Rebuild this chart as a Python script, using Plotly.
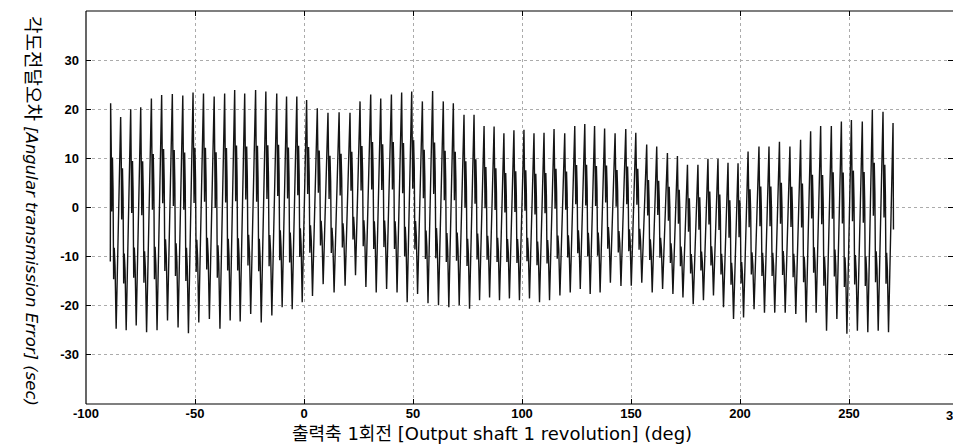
import plotly.graph_objects as go

# ---- data ----
# angle (deg) of each tooth peak
peak_deg = [-88.7, -84.1, -79.5, -74.9, -70.0, -65.3, -60.4, -55.6, -50.9, -46.1,
            -41.2, -36.4, -31.8, -27.2, -22.2, -17.5, -12.5, -8.0, -3.3, 1.2,
            6.1, 11.0, 16.1, 21.1, 25.7, 30.6, 35.2, 40.1, 44.8, 49.4,
            54.3, 59.0, 63.9, 68.5, 73.4, 78.0, 82.6, 87.2, 91.7, 96.3,
            100.9, 105.5, 110.1, 114.7, 119.6, 124.2, 128.8, 133.3, 137.9, 142.7,
            147.6, 152.2, 157.2, 161.8, 166.7, 171.3, 175.9, 180.7, 185.3, 189.9,
            194.5, 199.1, 203.7, 208.7, 213.3, 218.1, 222.9, 227.8, 232.4, 237.0,
            241.9, 246.5, 251.1, 256.1, 260.7, 265.6, 270.2]
# peak values (sec)
peak_val = [21.2, 18.4, 20.0, 20.4, 22.2, 22.9, 23.1, 22.8, 23.4, 23.2,
            22.6, 23.2, 23.9, 23.2, 23.9, 23.6, 23.2, 22.6, 22.6, 21.9,
            20.2, 19.3, 19.4, 19.3, 21.6, 23.0, 22.2, 23.0, 23.4, 23.6,
            21.6, 23.7, 21.6, 21.2, 18.9, 18.9, 16.6, 16.5, 15.1, 15.7,
            15.8, 15.1, 15.2, 16.0, 15.1, 16.6, 17.0, 16.6, 16.1, 15.1,
            16.0, 15.2, 12.8, 12.4, 11.1, 10.5, 8.7, 8.7, 9.9, 9.9,
            9.1, 9.0, 11.4, 12.4, 12.4, 13.4, 12.4, 13.8, 15.5, 16.6,
            16.6, 17.5, 17.8, 17.5, 19.9, 19.5, 17.2]
# trough values between consecutive peaks (sec)
trough_val = [-24.7, -25.0, -24.0, -25.4, -25.0, -23.0, -24.4, -25.6, -23.4, -22.7,
              -24.7, -23.0, -23.2, -21.7, -23.4, -22.0, -20.3, -20.7, -19.3, -18.0,
              -15.6, -17.3, -15.9, -13.8, -16.2, -17.3, -16.6, -17.3, -19.3, -17.6,
              -19.5, -19.9, -20.3, -19.9, -20.6, -18.9, -18.3, -18.9, -18.5, -18.9,
              -18.5, -19.3, -18.9, -17.9, -17.3, -16.6, -17.6, -17.3, -15.3, -16.0,
              -15.9, -15.3, -17.3, -16.6, -17.6, -18.3, -19.7, -18.9, -17.9, -20.3,
              -22.7, -22.4, -20.7, -21.4, -21.4, -21.4, -21.7, -23.4, -21.4, -25.1,
              -22.7, -25.7, -25.1, -25.4, -25.1, -25.4]
start_val = -11.0
end_val = -4.5
# shape of one tooth: phase within the pitch and fraction between trough and peak
profile_phase = [0.0, 0.06, 0.10, 0.18, 0.24, 0.30, 0.36, 0.44, 0.55]
profile_frac = [1.0, 0.80, 0.52, 0.76, 0.62, 0.22, 0.36, 0.28, 0.0]

x_ticks = [-100, -50, 0, 50, 100, 150, 200, 250]
x_tick_text = ["-100", "-50", "0", "50", "100", "150", "200", "250"]
x_last_tick = "300"
y_ticks = [-30, -20, -10, 0, 10, 20, 30]
y_tick_text = ["-30", "-20", "-10", "0", "10", "20", "30"]

x_title = "출력축 1회전 [Output shaft 1 revolution] (deg)"
y_title_ko = "각도전달오차"
y_title_en = "[Angular transmission Error] (sec)"

# ---- build the trace ----
xs = [peak_deg[0] - 0.15]
ys = [start_val]
for k in range(len(trough_val)):
    t0, t1 = peak_deg[k], peak_deg[k + 1]
    H, L = peak_val[k], trough_val[k]
    P = t1 - t0
    for ph, f in zip(profile_phase, profile_frac):
        xs.append(t0 + ph * P)
        ys.append(L + f * (H - L))
xs.append(peak_deg[-1])
ys.append(peak_val[-1])
xs.append(peak_deg[-1] + 0.2)
ys.append(end_val)

W, H_FIG = 953, 445
ML, MT, MB = 86, 11, 41
PX_PER_DEG = 2.18
x_lo = -100
x_hi = x_lo + (W - ML) / PX_PER_DEG   # plot area reaches the window edge

fig = go.Figure()
fig.add_trace(go.Scatter(x=xs, y=ys, mode="lines",
                         line=dict(color="#141414", width=1.4),
                         showlegend=False, hoverinfo="skip"))

tickfont = dict(family="Liberation Sans, Arial, sans-serif", size=13,
                color="black")
axis_common = dict(showline=False, mirror="ticks", ticks="inside", ticklen=5,
                   tickwidth=1.2, tickcolor="black", showgrid=True,
                   gridcolor="#ababab", griddash="dot", gridwidth=1,
                   zeroline=False, tickfont=tickfont)

fig.update_xaxes(range=[x_lo, x_hi], tickvals=x_ticks,
                 ticktext=["<b>%s</b>" % t for t in x_tick_text], **axis_common)
fig.update_yaxes(range=[-40, 40], tickvals=y_ticks,
                 ticktext=["<b>%s</b>" % t for t in y_tick_text],
                 ticklabelstandoff=6, **axis_common)

# frame: left, top and bottom (right side lies beyond the window)
for x0, y0, x1, y1 in [(0, 0, 0, 1), (0, 1, 1, 1), (0, 0, 1, 0)]:
    fig.add_shape(type="line", xref="paper", yref="paper",
                  x0=x0, y0=y0, x1=x1, y1=y1,
                  line=dict(color="black", width=1.2), layer="above")

# partly visible last tick label at the right edge (cut off in the reference too)
fig.add_annotation(text="<b>%s</b>" % x_last_tick, xref="paper", yref="paper",
                   x=(957 - ML) / (W - ML), y=0, yshift=-11, xanchor="center",
                   yanchor="middle", showarrow=False, font=tickfont)

title_font = dict(family="DejaVu Sans, Noto Sans CJK KR, sans-serif",
                  size=18, color="black")
fig.add_annotation(text=x_title,
                   xref="paper", yref="paper", x=(492 - ML) / (W - ML),
                   y=-0.076, xanchor="center", yanchor="middle",
                   showarrow=False, font=title_font)
fig.add_annotation(
    text='<span style="font-size:19px">%s</span> <i>%s</i>' % (y_title_ko, y_title_en),
    xref="paper", yref="paper", x=(33 - ML) / (W - ML),
    y=0.491, xanchor="center", yanchor="middle",
    showarrow=False, textangle=90, font=dict(title_font, size=16.5))

fig.update_layout(width=W, height=H_FIG,
                  margin=dict(l=ML, r=0, t=MT, b=MB),
                  paper_bgcolor="white", plot_bgcolor="white")

fig.write_html("out.html")
